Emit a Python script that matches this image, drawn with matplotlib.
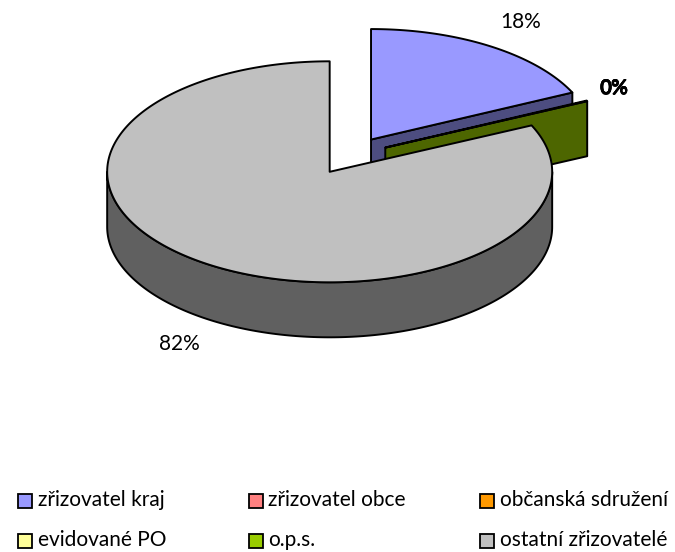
import numpy as np
import matplotlib.pyplot as plt
from matplotlib.patches import Polygon, Rectangle

categories = ['zřizovatel kraj', 'zřizovatel obce', 'občanská sdružení',
              'evidované PO', 'o.p.s.', 'ostatní zřizovatelé']
shares = [18.0, 0.0, 0.0, 0.0, 0.1, 81.9]
pct_labels = ['18%', '0%', '0%', '0%', '0%', '82%']
top_colors = ['#9999FF', '#FF8080', '#FF9900', '#FFFF99', '#99CC00', '#C0C0C0']
side_colors = ['#4D4D80', '#804040', '#804C00', '#80804D', '#4D6600', '#606060']

# pie geometry (pixels, y pointing down)
cx, cy = 350.4, 155.7
rx, ry = 222.5, 110.5
depth = 55
explode = 0.173
label_r = 1.43
plot_right = 628
lw = 1.4
font = ['Lato', 'DejaVu Sans']
fs = 15

fig = plt.figure(figsize=(6.75, 5.52), dpi=100)
ax = fig.add_axes([0, 0, 1, 1])
ax.set_xlim(0, 675)
ax.set_ylim(552, 0)
ax.axis('off')


def rim(t, ox, oy, dz=0.0):
    t = np.radians(t)
    return np.column_stack([ox + rx * np.sin(t), oy - ry * np.cos(t) + dz])


bounds = np.concatenate([[0], np.cumsum(shares)]) * 3.6
slices = []
for i in range(len(shares)):
    a0, a1 = bounds[i], bounds[i + 1]
    mid = np.radians((a0 + a1) / 2)
    ox = cx + explode * rx * np.sin(mid)
    oy = cy - explode * ry * np.cos(mid)
    slices.append((i, a0, a1, mid, ox, oy))

# back slices first
for i, a0, a1, mid, ox, oy in sorted(slices, key=lambda s: -np.cos(s[3])):
    if shares[i] <= 0:
        continue
    kw = dict(closed=True, ec='black', lw=lw, joinstyle='round')
    # visible cut faces
    for a, sign in ((a0, -1), (a1, 1)):
        if sign * np.sin(np.radians(a)) > 1e-6:
            p = rim(np.array([a]), ox, oy)[0]
            face = [(ox, oy), tuple(p), (p[0], p[1] + depth), (ox, oy + depth)]
            ax.add_patch(Polygon(face, fc=side_colors[i], **kw))
    # outer wall, front half only
    lo, hi = max(a0, 90), min(a1, 270)
    if hi > lo:
        t = np.linspace(lo, hi, 200)
        wall = np.vstack([rim(t, ox, oy), rim(t[::-1], ox, oy, depth)])
        ax.add_patch(Polygon(wall, fc=side_colors[i], **kw))
    # top face
    t = np.linspace(a0, a1, max(int(a1 - a0) * 2, 4))
    top = np.vstack([[ox, oy], rim(t, ox, oy)])
    ax.add_patch(Polygon(top, fc=top_colors[i], **kw))

# data labels (kept inside the plot area like Excel does)
fig.canvas.draw()
renderer = fig.canvas.get_renderer()
for i, a0, a1, mid, ox, oy in slices:
    s, c = np.sin(mid), np.cos(mid)
    x = cx + label_r * rx * s
    y = cy - label_r * ry * c + (depth if c < 0 else 0)
    # the zero labels sit on top of each other and come out heavier
    weight = 'bold' if round(shares[i]) == 0 else 'normal'
    txt = ax.text(x, y, pct_labels[i], ha='center', va='center', fontsize=fs,
                  family=font, weight=weight)
    bb = txt.get_window_extent(renderer)
    if bb.x1 > plot_right:
        txt.set_x(x - (bb.x1 - plot_right))

# legend, 3 columns x 2 rows
for k, name in enumerate(categories):
    col, row = k % 3, k // 3
    x0 = 17.5 + col * 231
    y0 = 500.5 + row * 40
    ax.add_patch(Rectangle((x0, y0 - 7), 14, 14, fc=top_colors[k],
                           ec='black', lw=1.3))
    ax.text(x0 + 20, y0, name, ha='left', va='center', fontsize=fs,
            family=font)

fig.savefig('out.png', dpi=100)
